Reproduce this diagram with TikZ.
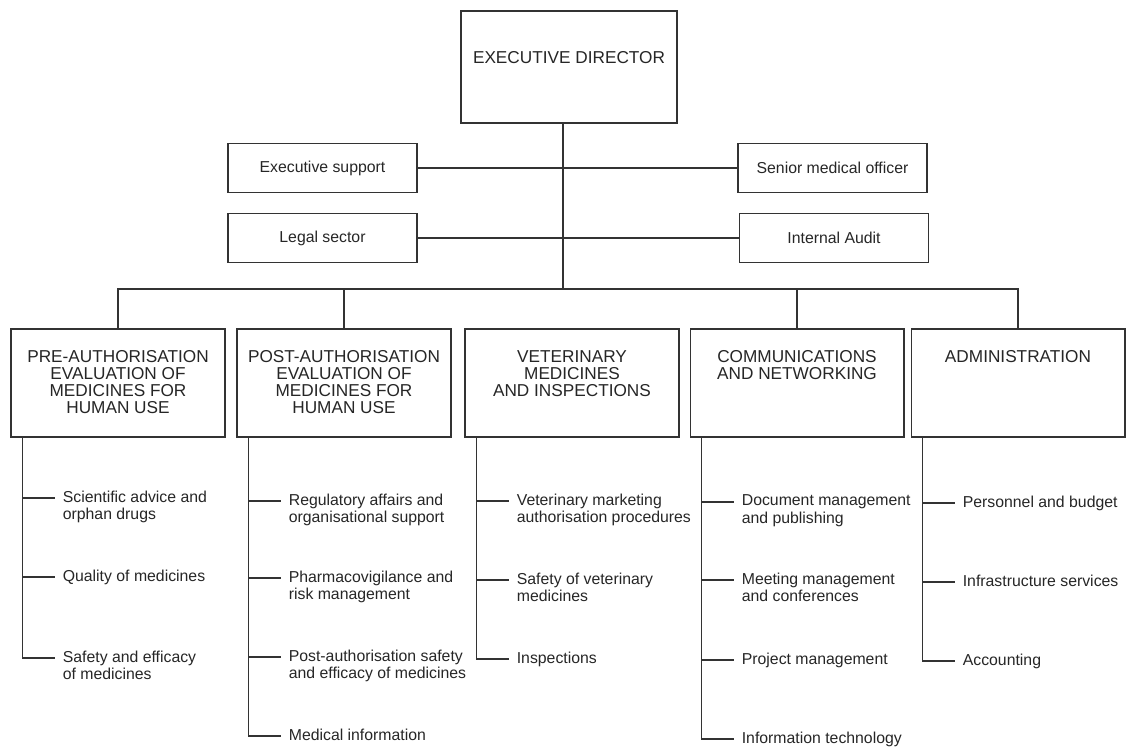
\documentclass[tikz,border=0pt]{standalone}
\usepackage{fontspec}
\setmainfont{Liberation Sans}
\usetikzlibrary{positioning,shadows}
\tikzset{
  unit/.style={draw=black!80, fill=white, line width=0.6pt, minimum width=4.28cm, minimum height=2.16cm, inner sep=0pt,
    drop shadow={shadow xshift=0.6pt, shadow yshift=-0.7pt, fill=black!40, opacity=1}},
  unittxt/.style={align=center, inner sep=0pt, text=black!85, font=\fontsize{9.8}{9.6}\selectfont},
  side/.style={draw=black!80, line width=0.6pt, minimum width=3.78cm, minimum height=0.97cm, text=black!85, font=\fontsize{9}{10}\selectfont},
  item/.style={anchor=north west, align=left, inner sep=0pt, text=black!85, font=\fontsize{9}{9.9}\selectfont},
  conn/.style={draw=black!80, line width=0.6pt}
}
\begin{document}
\begin{tikzpicture}[x=0.02cm,y=-0.02cm]
    \useasboundingbox (0,0) rectangle (1126,750);
    % top
    \node[unit, minimum width=4.32cm, minimum height=2.24cm] (ed) at (569,67) {};
    \node[unittxt, below=0.82cm of ed.north] (edtxt) {EXECUTIVE DIRECTOR};
    \node[side] (exsup) at (322.5,168) {Executive support};
    \node[side] (legal) at (322.5,238) {Legal sector};
    \node[side] (senior) at (832.5,168) {Senior medical officer};
    \node[side] (audit) at (834,238) {Internal Audit};
    \coordinate (bus) at (563,289);
    \draw[conn] (ed.south -| bus) -- (bus);
    \draw[conn] (exsup) -- (senior);
    \draw[conn] (legal) -- (audit);
    % directorates
    \node[unit] (pre) at (118,383) {};
    \node[unit] (post) at (344,383) {};
    \node[unit] (vet) at (572,383) {};
    \node[unit] (comm) at (797,383) {};
    \node[unit] (admin) at (1018,383) {};
    \node[unittxt, below=0.44cm of pre.north] (pretxt) {PRE-AUTHORISATION\\EVALUATION OF\\MEDICINES FOR\\HUMAN USE};
    \node[unittxt, below=0.44cm of post.north] (posttxt) {POST-AUTHORISATION\\EVALUATION OF\\MEDICINES FOR\\HUMAN USE};
    \node[unittxt, below=0.44cm of vet.north] (vettxt) {VETERINARY\\MEDICINES\\AND INSPECTIONS};
    \node[unittxt, below=0.44cm of comm.north] (commtxt) {COMMUNICATIONS\\AND NETWORKING};
    \node[unittxt, below=0.44cm of admin.north] (admintxt) {ADMINISTRATION};
    \draw[conn] (pre.north) |- (bus) -| (admin.north);
    \draw[conn] (post.north) -- (post.north |- bus);
    \draw[conn] (comm.north) -- (comm.north |- bus);
    % sectors
    \foreach \u in {pre,post,vet,comm,admin}
        \coordinate (\u-t) at ([xshift=0.24cm]\u.south west);
    \foreach \u/\nm/\yy/\txt in {
        pre/sci/498/{Scientific advice and\\orphan drugs},
        pre/qual/577/{Quality of medicines},
        pre/safe/658/{Safety and efficacy\\of medicines},
        post/reg/501/{Regulatory affairs and\\organisational support},
        post/pharm/578/{Pharmacovigilance and\\risk management},
        post/pas/657/{Post-authorisation safety\\and efficacy of medicines},
        post/medinf/736/{Medical information},
        vet/vmap/501/{Veterinary marketing\\authorisation procedures},
        vet/vsafe/580/{Safety of veterinary\\medicines},
        vet/insp/659/{Inspections},
        comm/docm/502/{Document management\\and publishing},
        comm/meet/580/{Meeting management\\and conferences},
        comm/proj/660/{Project management},
        comm/it/739/{Information technology},
        admin/pers/503/{Personnel and budget},
        admin/infra/582/{Infrastructure services},
        admin/acc/661/{Accounting}} {
        \node[item] (\nm) at ([xshift=0.8cm,yshift=0.152cm]\u-t |- 0,\yy) {\txt};
        \draw[conn] (\u-t) |- ([xshift=-0.14cm,yshift=-0.152cm]\nm.north west);
    }
\end{tikzpicture}
\end{document}
